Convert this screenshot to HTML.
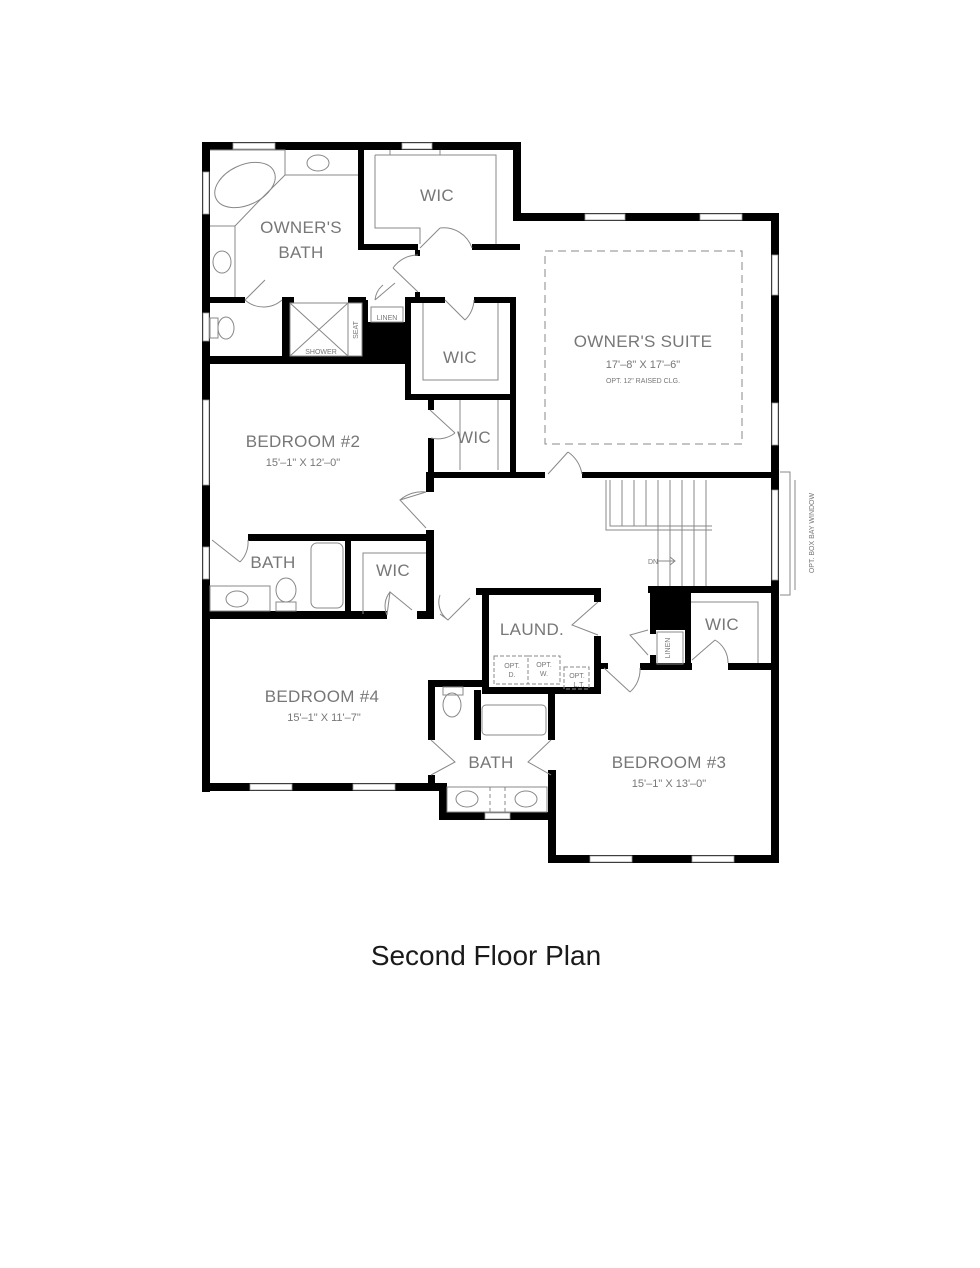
<!DOCTYPE html>
<html><head><meta charset="utf-8"><style>
html,body{margin:0;padding:0;background:#fff;}
svg{display:block}
text{font-family:"Liberation Sans",sans-serif;fill:#777;}
.t{font-size:17px;letter-spacing:0.3px;}
.s{font-size:11px;}
.xs{font-size:7px;}
</style></head><body>
<svg width="980" height="1268" viewBox="0 0 980 1268" xmlns="http://www.w3.org/2000/svg">
<g fill="#000">
<rect x="202" y="142" width="316" height="8"/>
<rect x="202" y="142" width="8" height="650"/>
<rect x="513" y="142" width="8" height="78"/>
<rect x="513" y="213" width="266" height="8"/>
<rect x="771" y="213" width="8" height="650"/>
<rect x="548" y="855" width="231" height="8"/>
<rect x="548" y="770" width="8" height="93"/>
<rect x="202" y="783" width="245" height="8"/>
<rect x="439" y="783" width="8" height="36"/>
<rect x="439" y="812" width="117" height="8"/>
<rect x="202" y="356" width="208" height="8"/>
<rect x="202" y="297" width="43" height="6"/>
<rect x="282" y="297" width="8" height="62"/>
<rect x="282" y="297" width="12" height="6"/>
<rect x="348" y="297" width="18" height="6"/>
<rect x="362" y="300" width="6" height="60"/>
<rect x="366" y="322" width="40" height="40"/>
<rect x="358" y="146" width="6" height="104"/>
<rect x="358" y="244" width="60" height="6"/>
<rect x="472" y="244" width="48" height="6"/>
<rect x="415" y="250" width="5" height="6"/>
<rect x="415" y="292" width="5" height="8"/>
<rect x="405" y="297" width="6" height="103"/>
<rect x="405" y="297" width="40" height="6"/>
<rect x="474" y="297" width="42" height="6"/>
<rect x="510" y="297" width="6" height="180"/>
<rect x="405" y="394" width="111" height="6"/>
<rect x="428" y="400" width="6" height="10"/>
<rect x="428" y="438" width="6" height="40"/>
<rect x="428" y="472" width="90" height="6"/>
<rect x="500" y="472" width="45" height="6"/>
<rect x="582" y="472" width="195" height="6"/>
<rect x="426" y="472" width="8" height="20"/>
<rect x="426" y="530" width="8" height="87"/>
<rect x="248" y="534" width="186" height="7"/>
<rect x="345" y="538" width="6" height="78"/>
<rect x="202" y="611" width="185" height="8"/>
<rect x="417" y="611" width="17" height="8"/>
<rect x="426" y="585" width="8" height="8"/>
<rect x="476" y="588" width="124" height="7"/>
<rect x="482" y="590" width="7" height="104"/>
<rect x="594" y="588" width="7" height="14"/>
<rect x="594" y="636" width="7" height="58"/>
<rect x="482" y="687" width="119" height="7"/>
<rect x="600" y="663" width="8" height="6"/>
<rect x="428" y="680" width="60" height="7"/>
<rect x="428" y="680" width="7" height="60"/>
<rect x="428" y="775" width="7" height="12"/>
<rect x="474" y="690" width="7" height="50"/>
<rect x="548" y="690" width="7" height="50"/>
<rect x="648" y="586" width="130" height="7"/>
<rect x="650" y="590" width="37" height="40"/>
<rect x="650" y="628" width="6" height="6"/>
<rect x="685" y="590" width="6" height="78"/>
<rect x="640" y="663" width="52" height="7"/>
<rect x="728" y="663" width="50" height="7"/>
<rect x="650" y="655" width="6" height="10"/>
</g>
<g fill="#fff" stroke="#999" stroke-width="0.8">
<rect x="233" y="143" width="42" height="6"/>
<rect x="402" y="143" width="30" height="6"/>
<rect x="203" y="172" width="6" height="42"/>
<rect x="203" y="313" width="6" height="28"/>
<rect x="203" y="400" width="6" height="85"/>
<rect x="203" y="547" width="6" height="32"/>
<rect x="585" y="214" width="40" height="6"/>
<rect x="700" y="214" width="42" height="6"/>
<rect x="772" y="255" width="6" height="40"/>
<rect x="772" y="403" width="6" height="42"/>
<rect x="772" y="490" width="6" height="90"/>
<rect x="250" y="784" width="42" height="6"/>
<rect x="353" y="784" width="42" height="6"/>
<rect x="485" y="813" width="25" height="6"/>
<rect x="590" y="856" width="42" height="6"/>
<rect x="692" y="856" width="42" height="6"/>
</g>
<g fill="none" stroke="#888" stroke-width="1">
<ellipse cx="245" cy="185" rx="32" ry="20" transform="rotate(-25 245 185)"/>
<path d="M210 150 L285 150 L285 175 L257 203 L235 226 L210 226"/>
<path d="M285 175 L358 175"/>
<ellipse cx="318" cy="163" rx="11" ry="8"/>
<path d="M235 226 L235 297"/>
<ellipse cx="222" cy="262" rx="9" ry="11"/>
<ellipse cx="226" cy="328" rx="8" ry="11"/>
<rect x="210" y="318" width="8" height="20"/>
<rect x="290" y="303" width="58" height="53"/>
<path d="M290 303 L348 356 M348 303 L290 356"/>
<rect x="348" y="303" width="14" height="53"/>
<rect x="371" y="307" width="32" height="15"/>
<path d="M375 155 L375 228 L420 228 L420 244 M375 155 L496 155 L496 244 M390 150 L390 155 M440 150 L440 155"/>
<path d="M423 303 L423 380 L498 380 L498 303"/>
<path d="M460 400 L460 470 M498 400 L498 470"/>
<rect x="545" y="251" width="197" height="193" stroke-dasharray="8 5"/>
<path d="M606 480 L606 530 L712 530 M610 480 L610 526 L712 526"/>
<path d="M622 480 V526 M634 480 V526 M646 480 V526 M658 480 V586 M670 480 V586 M682 480 V586 M694 480 V586 M706 480 V586"/>
<path d="M657 561 L675 561 M670 557 L675 561 L670 565"/>
<path d="M780 472 L790 472 L790 595 L780 595 M795 480 L795 590"/>
<rect x="311" y="543" width="32" height="65" rx="6"/>
<rect x="210" y="586" width="60" height="25"/>
<ellipse cx="237" cy="599" rx="11" ry="8"/>
<ellipse cx="286" cy="590" rx="10" ry="12"/>
<rect x="276" y="602" width="20" height="9"/>
<path d="M363 614 L363 553 L426 553"/>
<rect x="494" y="656" width="34" height="28" stroke-dasharray="4 2"/>
<rect x="528" y="656" width="32" height="28" stroke-dasharray="4 2"/>
<rect x="564" y="667" width="25" height="22" stroke-dasharray="4 2"/>
<ellipse cx="452" cy="705" rx="9" ry="12"/>
<rect x="443" y="687" width="20" height="8"/>
<rect x="482" y="705" width="64" height="30" rx="4"/>
<rect x="447" y="787" width="100" height="25"/>
<ellipse cx="467" cy="799" rx="11" ry="8"/>
<ellipse cx="526" cy="799" rx="11" ry="8"/>
<path d="M490 787 V812 M505 787 V812" stroke-dasharray="4 3"/>
<path d="M691 602 L758 602 L758 663"/>
<rect x="657" y="632" width="26" height="32"/>
<path d="M245 300 L265 280 M245 300 A28 28 0 0 0 282 300"/>
<path d="M420 248 L440 228 M472 248 A30 30 0 0 0 440 228"/>
<path d="M418 292 L393 268 M418 255 A30 30 0 0 0 393 268"/>
<path d="M375 300 L395 283 M375 300 A22 22 0 0 1 383 285"/>
<path d="M445 300 L465 320 M474 300 A30 30 0 0 1 465 320"/>
<path d="M430 410 L455 433 M431 438 A28 28 0 0 0 455 433"/>
<path d="M548 474 L568 452 M582 474 A34 34 0 0 0 568 452"/>
<path d="M426 492 L400 500 L426 528 M426 492 A34 34 0 0 0 400 500"/>
<path d="M212 540 L240 562 M248 540 A28 28 0 0 1 240 562"/>
<path d="M387 615 L390 592 L412 610 M390 592 A22 22 0 0 0 387 615"/>
<path d="M440 614 L448 620 L470 598 M440 595 A22 22 0 0 0 448 620"/>
<path d="M598 602 L572 625 L598 635 M598 602"/>
<path d="M604 668 L630 692 M630 692 A30 30 0 0 0 640 668"/>
<path d="M648 655 L630 635 L648 630"/>
<path d="M692 660 L715 640 M715 640 A26 26 0 0 1 728 663"/>
<path d="M431 740 L455 762 L431 775 M431 740"/>
<path d="M551 740 L528 762 L551 775"/>
</g>
<text class="t" x="301" y="233" text-anchor="middle">OWNER'S</text>
<text class="t" x="301" y="258" text-anchor="middle">BATH</text>
<text class="t" x="437" y="201" text-anchor="middle">WIC</text>
<text class="t" x="460" y="363" text-anchor="middle">WIC</text>
<text class="t" x="474" y="443" text-anchor="middle">WIC</text>
<text class="xs" x="387" y="320" text-anchor="middle">LINEN</text>
<text class="xs" x="321" y="354" text-anchor="middle">SHOWER</text>
<text class="xs" x="358" y="330" text-anchor="middle" transform="rotate(-90 358 330)">SEAT</text>
<text class="t" x="643" y="347" text-anchor="middle">OWNER'S SUITE</text>
<text class="s" x="643" y="368" text-anchor="middle">17'–8" X 17'–6"</text>
<text class="xs" x="643" y="383" text-anchor="middle">OPT. 12" RAISED CLG.</text>
<text class="t" x="303" y="447" text-anchor="middle">BEDROOM #2</text>
<text class="s" x="303" y="466" text-anchor="middle">15'–1" X 12'–0"</text>
<text class="t" x="273" y="568" text-anchor="middle">BATH</text>
<text class="t" x="393" y="576" text-anchor="middle">WIC</text>
<text class="t" x="532" y="635" text-anchor="middle">LAUND.</text>
<text class="xs" x="512" y="668" text-anchor="middle">OPT.</text>
<text class="xs" x="512" y="677" text-anchor="middle">D.</text>
<text class="xs" x="544" y="667" text-anchor="middle">OPT.</text>
<text class="xs" x="544" y="676" text-anchor="middle">W.</text>
<text class="xs" x="577" y="678" text-anchor="middle">OPT.</text>
<text class="xs" x="579" y="687" text-anchor="middle">L.T.</text>
<text class="t" x="322" y="702" text-anchor="middle">BEDROOM #4</text>
<text class="s" x="324" y="721" text-anchor="middle">15'–1" X 11'–7"</text>
<text class="t" x="491" y="768" text-anchor="middle">BATH</text>
<text class="t" x="669" y="768" text-anchor="middle">BEDROOM #3</text>
<text class="s" x="669" y="787" text-anchor="middle">15'–1" X 13'–0"</text>
<text class="t" x="722" y="630" text-anchor="middle">WIC</text>
<text class="xs" x="670" y="648" text-anchor="middle" transform="rotate(-90 670 648)">LINEN</text>
<text class="xs" x="648" y="564">DN</text>
<text class="xs" x="814" y="533" text-anchor="middle" transform="rotate(-90 814 533)">OPT. BOX BAY WINDOW</text>
<text x="486" y="965" text-anchor="middle" style="font-size:28px;fill:#1a1a1a">Second Floor Plan</text>
</svg>
</body></html>
